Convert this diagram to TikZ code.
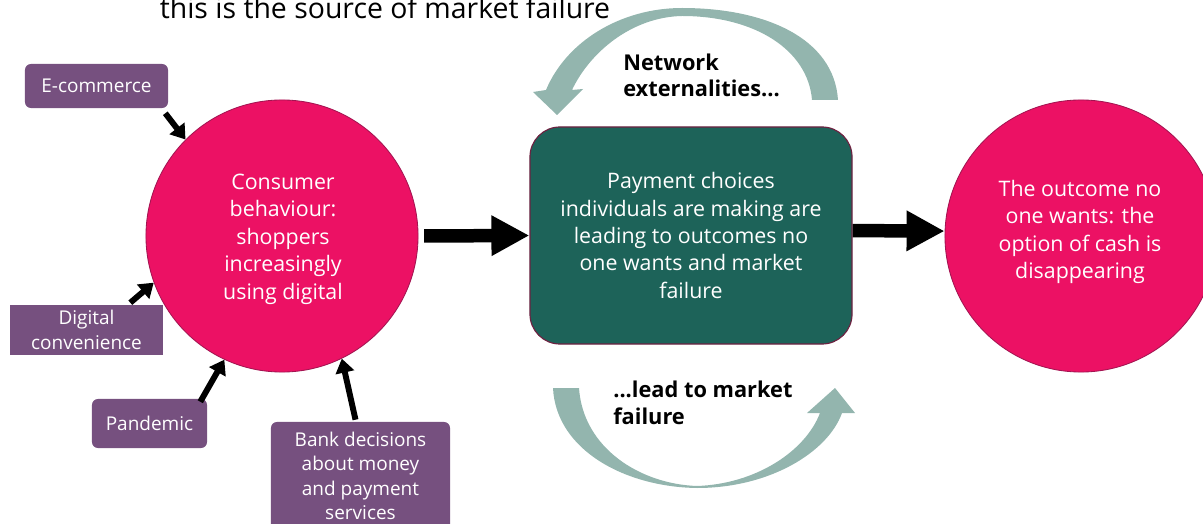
\documentclass[tikz,border=0pt]{standalone}
\usepackage{fontspec}
\setmainfont{Open Sans}
\usetikzlibrary{arrows.meta,calc}
\definecolor{pinkfill}{HTML}{EC1164}
\definecolor{pinkline}{HTML}{A31451}
\definecolor{tealfill}{HTML}{1D6359}
\definecolor{tealline}{HTML}{6E2141}
\definecolor{plum}{HTML}{76507F}
\definecolor{sage}{HTML}{93B5AE}
\begin{document}
\begin{tikzpicture}[x=0.025cm,y=-0.025cm,
  bigcircle/.style={circle, fill=pinkfill, draw=pinkline, line width=0.6pt,
    minimum size=6.8cm, inner sep=0pt, text=white, align=center,
    font=\fontsize{15.2}{19.5}\selectfont},
  paybox/.style={rectangle, rounded corners=0.75cm, fill=tealfill, draw=tealline,
    line width=0.8pt, minimum width=8.05cm, minimum height=5.425cm,
    text=white, align=center, font=\fontsize{15.2}{19.5}\selectfont},
  driver/.style={rectangle, rounded corners=0.15cm, fill=plum, text=white,
    align=center, inner sep=0pt, font=\fontsize{13.5}{17.4}\selectfont},
  smallarrow/.style={line width=4.2pt, -{Triangle[width=13pt,length=10pt]}},
  bigarrow/.style={line width=9.6pt, -{Triangle[width=27pt,length=27pt]}},
  loopnote/.style={inner sep=0pt, align=left, text=black,
    font=\bfseries\fontsize{15.5}{19.1}\selectfont}
]
\useasboundingbox (0,0) rectangle (1203,524);
\clip (0,0) rectangle (1203,524);

% heading line, running off the top edge
\node[anchor=base, inner sep=0pt, font=\fontsize{20.2}{24}\selectfont] (title)
  at (385,18.5) {this is the source of market failure};

% feedback loops
\fill[sage] (838,100) .. controls (834,38) and (765,8) .. (682,8)
  .. controls (620,8) and (566,42) .. (546,90) -- (533,92) -- (557,115)
  -- (583,89) -- (572,90) .. controls (590,52) and (632,17) .. (682,16)
  .. controls (755,16) and (808,50) .. (812,100) -- cycle;
\fill[sage] (553,388) .. controls (556,450) and (625,487) .. (697,488)
  .. controls (770,488) and (828,452) .. (842,413) -- (855,413) -- (835,388)
  -- (807,413) -- (820,413) .. controls (805,452) and (755,484) .. (697,486)
  .. controls (640,484) and (583,448) .. (579,388) -- cycle;

% main chain
\node[bigcircle] (consumer) at (282,236) {};
\node[text=white, align=center, font=\fontsize{15.2}{19.5}\selectfont] (consumertext)
  at (283,239) {Consumer\\behaviour:\\shoppers\\increasingly\\using digital};
\node[paybox] (payment) at (691,235.5)
  {Payment choices\\individuals are making are\\leading to outcomes no\\one wants and market\\failure};
\node[bigcircle] (outcome) at (1081,236) {};
\node[text=white, align=center, font=\fontsize{15.2}{19.5}\selectfont] (outcometext)
  at (1080,232) {The outcome no\\one wants: the\\option of cash is\\disappearing};

\draw[bigarrow, shorten <=4pt] (consumer.east) -- (payment.west);
\draw[bigarrow] ([yshift=3.5pt]payment.east) -- ([yshift=3.5pt]outcome.west);

% drivers
\node[driver, minimum width=3.575cm, minimum height=1.1cm] (ecom) at (96.5,86) {E-commerce};
\node[driver, rounded corners=0pt, minimum width=3.825cm, minimum height=1.25cm] (digital)
  at (86.5,330) {Digital\\convenience};
\node[driver, minimum width=2.875cm, minimum height=1.225cm] (pandemic) at (149.5,423.5) {Pandemic};
\node[driver, minimum width=4.475cm, minimum height=2.7cm] (bank) at (360.5,476)
  {Bank decisions\\about money\\and payment\\services};

\draw[smallarrow] ([shift={(-3,5)}]ecom.south east) -- (consumer.135);
\draw[smallarrow] ([shift={(-33,-2)}]digital.north east) -- (consumer.200);
\draw[smallarrow] ([shift={(-7,3)}]pandemic.north east) -- (consumer.245);
\draw[smallarrow] ([shift={(-5,-2)}]bank.north) -- (consumer.296);

% loop captions (base anchor sits on the last line)
\node[loopnote, anchor=base west] (netnote) at (623,97) {Network\\externalities...};
\node[loopnote, anchor=base west] (leadnote) at (613,424) {...lead to market\\failure};
\end{tikzpicture}
\end{document}
